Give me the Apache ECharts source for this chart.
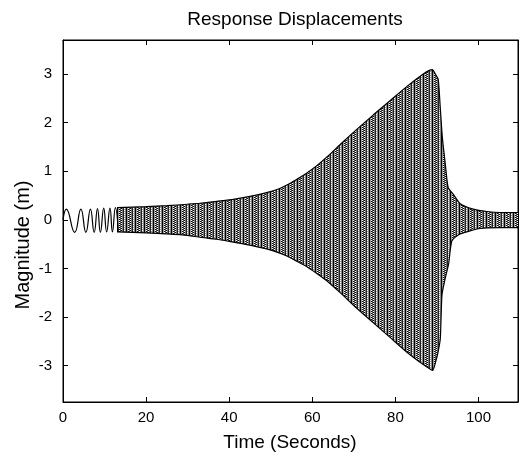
<!DOCTYPE html>
<html>
<head>
<meta charset="utf-8">
<script src="https://cdn.jsdelivr.net/npm/echarts@6/dist/echarts.min.js"></script>
<style>html,body{margin:0;padding:0;background:#fff}#c{width:524px;height:457px}</style>
</head>
<body>
<div id="c"></div>
<script>
// Early visible oscillation (peaks / troughs)
const tWave = [0, 0.8, 2.8, 4.3, 5.5, 6.6, 7.5, 8.3, 9.0, 9.8, 10.5, 11.3, 11.9, 12.6, 13.3];
const vWave = [0, 0.22, -0.26, 0.22, -0.26, 0.22, -0.26, 0.23, -0.26, 0.24, -0.25, 0.24, -0.25, 0.25, -0.25];

// Upper envelope of the dense oscillation
const tUpper = [13, 20, 25, 30, 33, 37, 41, 45, 49, 52, 54, 56, 58.6, 61, 64, 66.7, 70.7, 74.7, 78.7, 82.7, 86.7, 88.3, 88.9, 89.6, 90.3, 90.8, 91.3, 92.0, 92.7, 93.9, 95.6, 98.7, 102, 105.2, 109.5];
const vUpper = [0.25, 0.27, 0.29, 0.32, 0.34, 0.38, 0.42, 0.48, 0.56, 0.64, 0.72, 0.82, 0.96, 1.11, 1.33, 1.55, 1.86, 2.16, 2.45, 2.74, 3.0, 3.08, 3.09, 3.0, 2.89, 2.3, 1.69, 1.15, 0.66, 0.53, 0.33, 0.22, 0.17, 0.15, 0.15];

// Lower envelope of the dense oscillation
const tLower = [13, 20, 25, 30, 33, 37, 41, 45, 49, 52, 54, 56, 58.6, 61, 63.4, 66.7, 70.7, 74.7, 78.7, 82.7, 86.7, 88.5, 89.0, 89.6, 90.2, 90.8, 91.2, 92.0, 92.8, 93.6, 95.6, 100.4, 105.2, 109.5];
const vLower = [-0.25, -0.27, -0.29, -0.32, -0.36, -0.40, -0.46, -0.52, -0.60, -0.68, -0.75, -0.84, -0.96, -1.1, -1.25, -1.5, -1.82, -2.12, -2.42, -2.72, -2.98, -3.08, -3.1, -2.95, -2.75, -2.45, -1.55, -1.2, -0.91, -0.43, -0.29, -0.18, -0.16, -0.16];

const xTicks = [0, 20, 40, 60, 80, 100];
const yTicks = [-3, -2, -1, 0, 1, 2, 3];

const zip = (a, b) => a.map((v, i) => [v, b[i]]);

// striped, dithered fill texture (style only)
const pc = document.createElement('canvas');
pc.width = 9; pc.height = 2;
const g = pc.getContext('2d');
const cols = ['#000', '#999', '#bbb', '#555', '#aaa', '#777', '#222', '#999', '#888'];
cols.forEach((c, i) => { g.fillStyle = c; g.fillRect(i, 0, 1, 2); });
g.fillStyle = '#fff'; g.fillRect(2, 0, 1, 1); g.fillRect(4, 1, 1, 1); g.fillRect(7, 0, 1, 1);
g.fillStyle = '#000'; g.fillRect(2, 1, 1, 1); g.fillRect(4, 0, 1, 1);
const pattern = { image: pc, repeat: 'repeat' };

const font = 'Liberation Sans, Arial, Helvetica, sans-serif';
function mkAxis(extra, pos, labels, ticks) {
  return Object.assign({
    type: 'value', position: pos,
    axisLine: { show: true, onZero: false, lineStyle: { color: '#000', width: 1 } },
    axisTick: { show: true, inside: true, length: 5, lineStyle: { color: '#000' }, customValues: ticks },
    axisLabel: labels ? { customValues: ticks, color: '#000', fontFamily: font, fontSize: 15 } : { show: false },
    splitLine: { show: false }
  }, extra);
}

const chart = echarts.init(document.getElementById('c'), null, { renderer: 'canvas' });
const xb = mkAxis({ min: 0, max: 109.5 }, 'bottom', true, xTicks); xb.axisLabel.margin = 8;
const xt = mkAxis({ min: 0, max: 109.5 }, 'top', false, xTicks);
const yl = mkAxis({ min: -3.75, max: 3.7 }, 'left', true, yTicks); yl.axisLabel.margin = 11;
const yr = mkAxis({ min: -3.75, max: 3.7 }, 'right', false, yTicks);

chart.setOption({
  animation: false,
  backgroundColor: '#fff',
  title: {
    text: 'Response Displacements', left: 290, top: 5, textAlign: 'center',
    textStyle: { fontFamily: font, fontSize: 19, fontWeight: 'normal', color: '#000' }
  },
  grid: { left: 63, right: 6, top: 40, bottom: 55, show: true, borderColor: '#000', borderWidth: 1, backgroundColor: 'transparent' },
  xAxis: [xb, xt],
  yAxis: [yl, yr],
  graphic: [
    { type: 'text', x: 290, y: 443,
      style: { text: 'Time (Seconds)', fill: '#000', font: '19px ' + font, align: 'center', verticalAlign: 'middle' } },
    { type: 'text', x: 23, y: 245, rotation: Math.PI / 2,
      style: { text: 'Magnitude (m)', fill: '#000', font: '20px ' + font, align: 'center', verticalAlign: 'middle' } }
  ],
  series: [
    {
      type: 'line', data: zip(tUpper, vUpper), symbol: 'none', smooth: 0.2,
      lineStyle: { color: '#000', width: 1.2 },
      areaStyle: { color: pattern, opacity: 1, origin: -0.03 }
    },
    {
      type: 'line', data: zip(tLower, vLower), symbol: 'none', smooth: 0.2,
      lineStyle: { color: '#000', width: 1.2 },
      areaStyle: { color: pattern, opacity: 1, origin: 0.03 }
    },
    {
      type: 'line', data: zip(tWave, vWave), symbol: 'none', smooth: 0.5,
      lineStyle: { color: '#000', width: 1.2 }
    }
  ]
});
</script>
</body>
</html>
